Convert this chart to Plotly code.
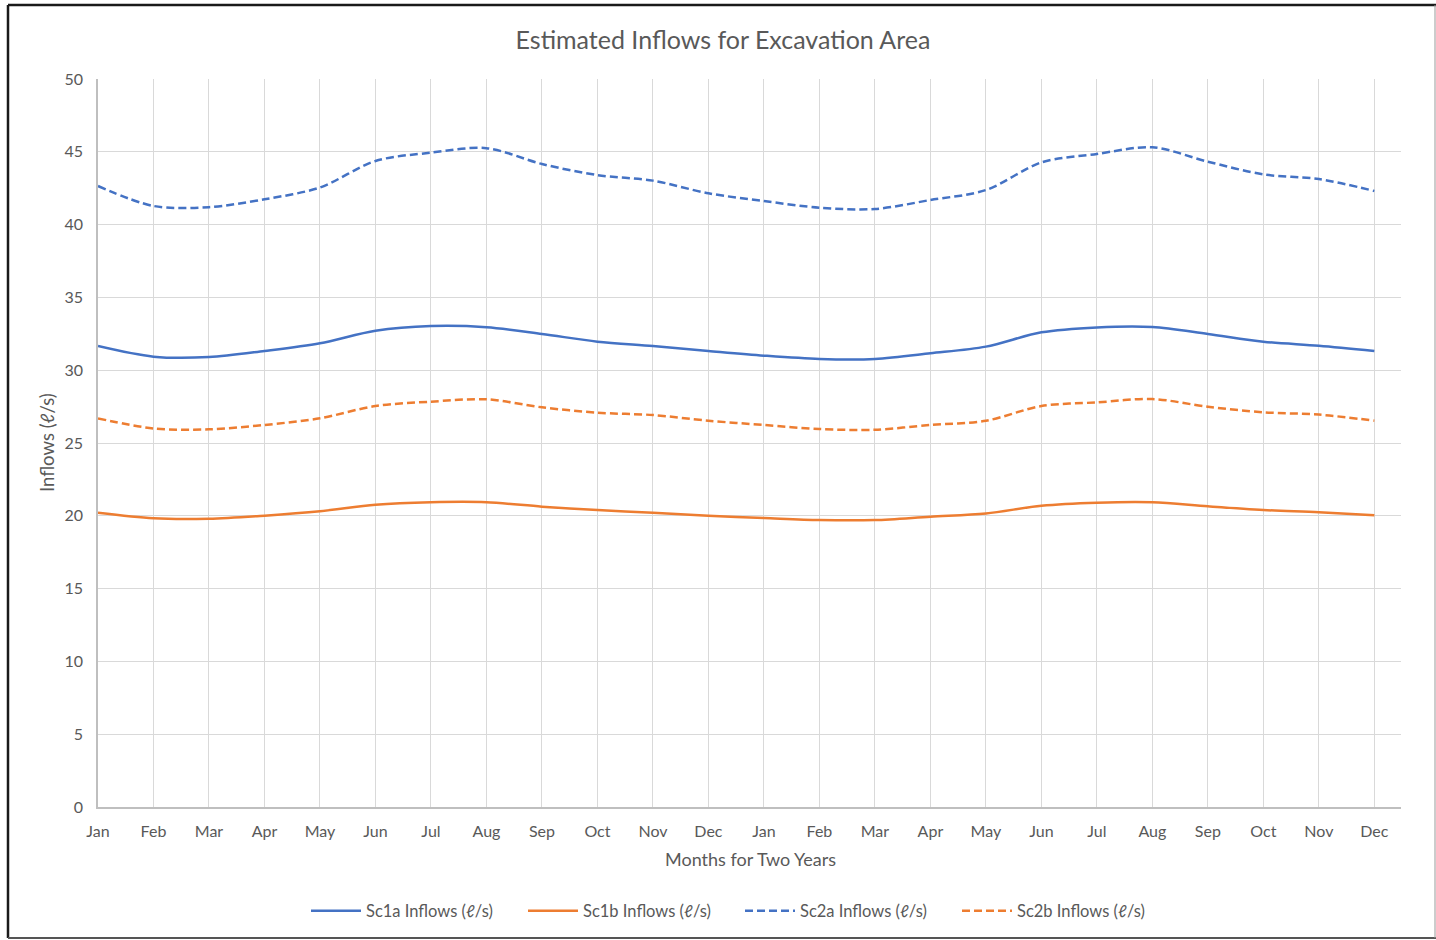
import plotly.graph_objects as go

# Month labels for two consecutive years
months = ["Jan", "Feb", "Mar", "Apr", "May", "Jun", "Jul", "Aug", "Sep", "Oct", "Nov", "Dec"]
categories = months + months

# Estimated inflows (l/s) per month
sc1a = [31.66, 30.93, 30.90, 31.32, 31.85, 32.71, 33.03, 32.95, 32.49, 31.96, 31.66, 31.32,
        31.00, 30.77, 30.77, 31.16, 31.62, 32.60, 32.94, 32.97, 32.49, 31.96, 31.68, 31.32]
sc1b = [20.21, 19.83, 19.80, 20.01, 20.31, 20.76, 20.93, 20.93, 20.63, 20.40, 20.21, 20.00,
        19.85, 19.71, 19.71, 19.94, 20.16, 20.69, 20.90, 20.93, 20.65, 20.40, 20.24, 20.03]
sc2a = [42.65, 41.28, 41.20, 41.74, 42.55, 44.37, 44.94, 45.25, 44.16, 43.40, 43.02, 42.15,
        41.62, 41.16, 41.07, 41.69, 42.37, 44.27, 44.85, 45.31, 44.32, 43.45, 43.13, 42.31]
sc2b = [26.69, 26.00, 25.94, 26.24, 26.70, 27.54, 27.84, 28.00, 27.45, 27.08, 26.92, 26.53,
        26.24, 25.96, 25.91, 26.24, 26.53, 27.54, 27.79, 28.02, 27.49, 27.11, 26.95, 26.53]

x = list(range(len(categories)))

BLUE = "#4472C4"
ORANGE = "#ED7D31"
FONT = "Lato, Carlito, 'Open Sans', sans-serif"
GREY = "#595959"

series = [
    ("Sc1a Inflows (ℓ/s)", sc1a, BLUE, "solid"),
    ("Sc1b Inflows (ℓ/s)", sc1b, ORANGE, "solid"),
    ("Sc2a Inflows (ℓ/s)", sc2a, BLUE, "8px,4px"),
    ("Sc2b Inflows (ℓ/s)", sc2b, ORANGE, "8px,4px"),
]

fig = go.Figure()
for name, vals, color, dash in series:
    fig.add_trace(go.Scatter(
        x=x, y=vals, mode="lines", name=name,
        line=dict(color=color, width=2.5, dash=dash, shape="spline", smoothing=0.9),
    ))

W, H = 1436, 940
L, R, T, B = 98, 35, 79, 133
pw, ph = W - L - R, H - T - B


def px_x(p):
    return (p - L) / pw


def px_y(p):
    return (H - B - p) / ph


fig.update_layout(
    width=W, height=H,
    margin=dict(l=L, r=R, t=T, b=B),
    paper_bgcolor="white", plot_bgcolor="white",
    font=dict(family=FONT, color=GREY, size=16),
    title=dict(text="Estimated Inflows for Excavation Area",
               x=723 / W, xref="container", xanchor="center",
               y=1 - 40 / H, yref="container", yanchor="middle",
               font=dict(size=25, color=GREY, family=FONT)),
    showlegend=True,
    legend=dict(orientation="h", x=px_x(740), xanchor="center",
                y=px_y(911), yanchor="middle",
                font=dict(size=16.5, color=GREY, family=FONT),
                entrywidth=152, entrywidthmode="pixels",
                itemwidth=50, tracegroupgap=0),
    xaxis=dict(
        range=[0, 23.48], tickmode="array", tickvals=x, ticktext=categories,
        showgrid=True, gridcolor="#D9D9D9", gridwidth=1.3,
        showline=True, linecolor="#BFBFBF", linewidth=1.5,
        ticks="", ticklabelstandoff=9, zeroline=False,
        tickfont=dict(size=16, color=GREY),
    ),
    yaxis=dict(
        range=[0, 50], tick0=0, dtick=5,
        showgrid=True, gridcolor="#D9D9D9", gridwidth=1.3,
        showline=True, linecolor="#BFBFBF", linewidth=1.5,
        ticks="", ticklabelstandoff=10, zeroline=False,
        tickfont=dict(size=16, color=GREY),
    ),
    annotations=[
        dict(text="Months for Two Years", xref="paper", yref="paper",
             x=px_x(750), y=px_y(859), xanchor="center", yanchor="middle",
             showarrow=False, font=dict(size=18, color=GREY)),
        dict(text="Inflows (ℓ/s)", xref="paper", yref="paper",
             x=px_x(47), y=px_y(443), xanchor="center", yanchor="middle",
             textangle=-90, showarrow=False, font=dict(size=18.5, color=GREY)),
    ],
    shapes=[
        dict(type="line", xref="paper", yref="paper", x0=px_x(8), x1=px_x(1436),
             y0=px_y(5), y1=px_y(5), line=dict(color="#1a1a1a", width=2.5)),
        dict(type="line", xref="paper", yref="paper", x0=px_x(8), x1=px_x(8),
             y0=px_y(5), y1=px_y(938), line=dict(color="#1a1a1a", width=2.5)),
        dict(type="line", xref="paper", yref="paper", x0=px_x(8), x1=px_x(1436),
             y0=px_y(938), y1=px_y(938), line=dict(color="#555555", width=2)),
        dict(type="line", xref="paper", yref="paper", x0=px_x(1435), x1=px_x(1435),
             y0=px_y(5), y1=px_y(938), line=dict(color="#999999", width=1)),
    ],
)

fig.write_html("out.html")
